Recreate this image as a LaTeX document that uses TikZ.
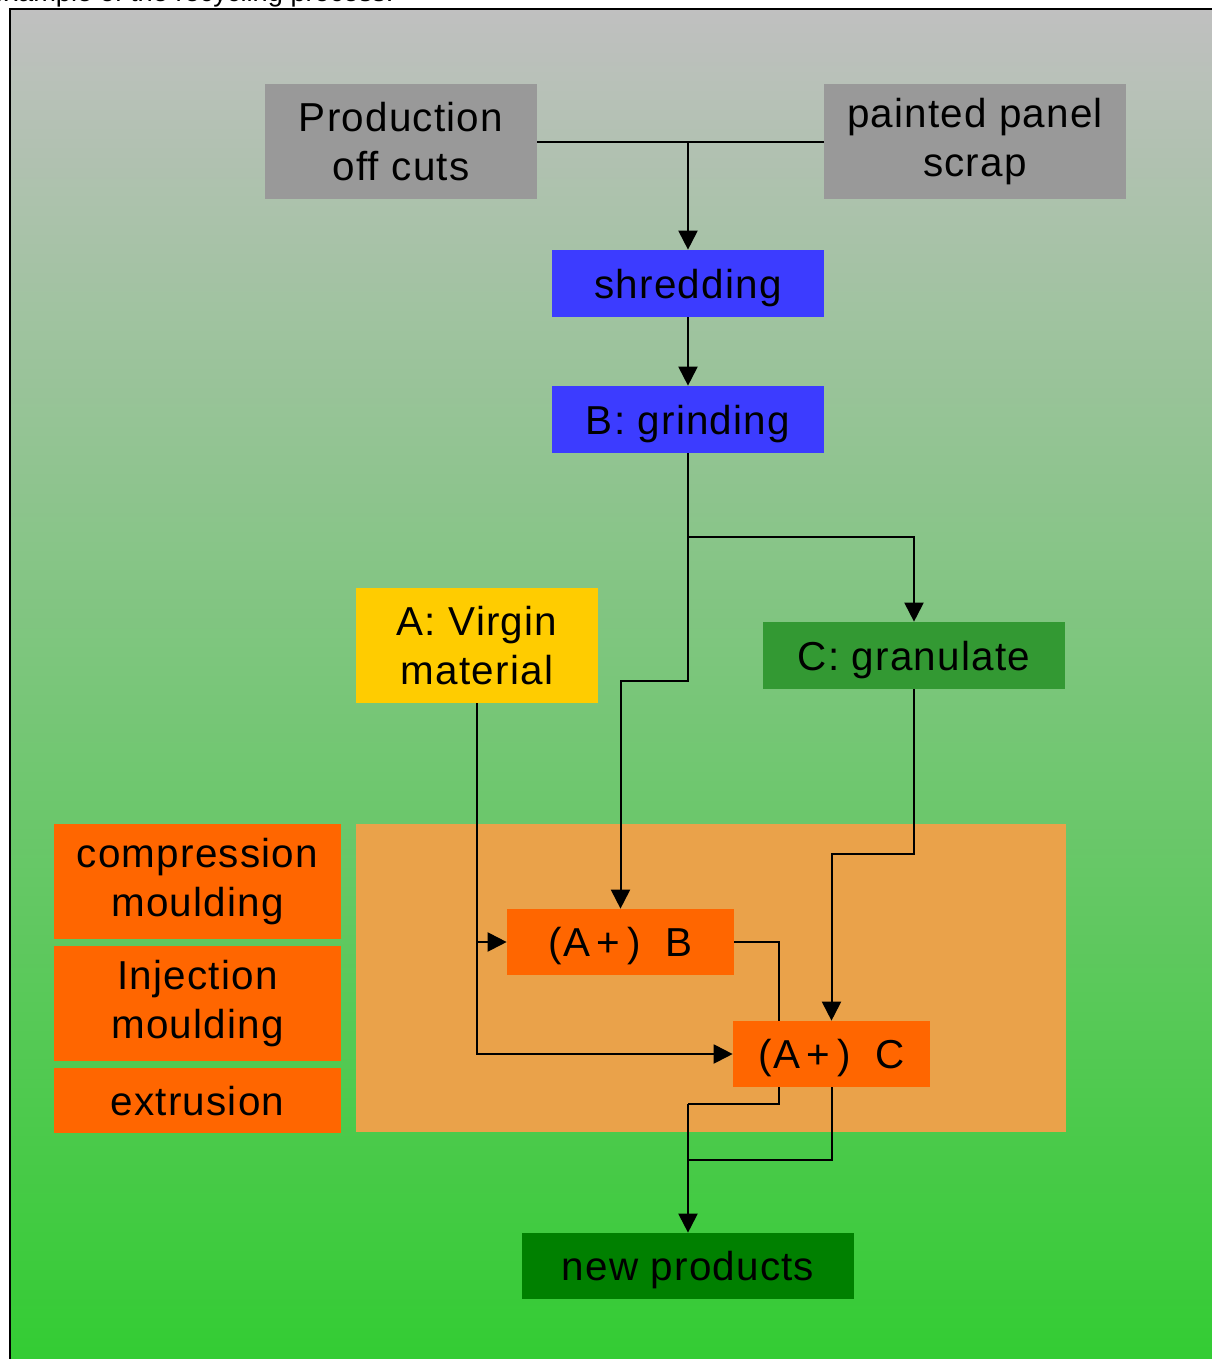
\documentclass[tikz,border=0pt]{standalone}
\usepackage{fontspec}
\setmainfont{Liberation Sans}
\usepackage{tikz}
\usetikzlibrary{arrows.meta}
\definecolor{bggray}{RGB}{192,192,192}
\definecolor{bggreen}{RGB}{51,204,51}
\definecolor{mixregion}{RGB}{234,162,74}
\definecolor{scrapgray}{RGB}{153,153,153}
\definecolor{millblue}{RGB}{60,60,255}
\definecolor{virginyellow}{RGB}{255,204,0}
\definecolor{mouldorange}{RGB}{255,102,0}
\definecolor{granugreen}{RGB}{51,153,51}
\definecolor{prodgreen}{RGB}{0,128,0}
\pgfdeclarelayer{behind}
\pgfsetlayers{behind,main}
\tikzset{
	box/.style={rectangle, inner sep=0pt, align=center, font=\fontsize{23}{27.5}\selectfont\addfontfeatures{LetterSpace=3}},
	oneline/.style={box, text height=0.8cm, text depth=0.21cm},
	wire/.style={line width=0.04cm},
	arr/.style={-{Triangle[length=0.38cm, width=0.38cm]}}
}

\begin{document}
\begin{tikzpicture}[x=0.02cm, y=-0.02cm]
	\useasboundingbox (0, 0) rectangle (1212, 1359);
	% Background, frame and mixing area:
	\begin{pgfonlayer}{behind}
		\shade[top color=bggray, bottom color=bggreen] (10, 9) rectangle (1214, 1361);
		\draw[line width=0.03cm] (1214, 9) -- (10, 9) -- (10, 1361);
		\fill[mixregion] (356, 824) rectangle (1066, 1132);
	\end{pgfonlayer}
	\node[anchor=base west, inner sep=0pt, font=\fontsize{15.5}{18}\selectfont] (title) at (-11, 1.5){example of the recycling process.};
	% Boxes:
	\node[box, fill=scrapgray, minimum width=5.44cm, minimum height=2.3cm](offcuts) at (401, 141.5){Production\\off cuts};
	\node[box, fill=scrapgray, minimum width=6.04cm, minimum height=2.3cm](panel) at (975, 141.5){painted panel\\scrap};
	\node[oneline, fill=millblue, minimum width=5.44cm, minimum height=1.34cm](shred) at (688, 283.5){shredding};
	\node[oneline, fill=millblue, minimum width=5.44cm, minimum height=1.34cm](grind) at (688, 419.5){B: grinding};
	\node[box, fill=virginyellow, minimum width=4.84cm, minimum height=2.3cm](virgin) at (477, 645.5){A: Virgin\\material};
	\node[oneline, fill=granugreen, minimum width=6.04cm, minimum height=1.34cm](gran) at (914, 655.5){C: granulate};
	\node[box, fill=mouldorange, minimum width=5.74cm, minimum height=2.3cm](compr) at (197.5, 881.5){compression\\moulding};
	\node[box, fill=mouldorange, minimum width=5.74cm, minimum height=2.3cm](inject) at (197.5, 1003.5){Injection\\moulding};
	\node[oneline, fill=mouldorange, minimum width=5.74cm, minimum height=1.3cm](extru) at (197.5, 1100.5){extrusion};
	\node[oneline, fill=mouldorange, minimum width=4.54cm, minimum height=1.32cm](AB) at (620.5, 942){(A\,+\,)\ \ B};
	\node[oneline, fill=mouldorange, minimum width=3.94cm, minimum height=1.32cm](AC) at (831.5, 1054){(A\,+\,)\ \ C};
	\node[oneline, fill=prodgreen, minimum width=6.64cm, minimum height=1.32cm](newprod) at (688, 1266){new products};
	% Bends of the wires:
	\coordinate (split) at (688, 537);
	\coordinate (bend1) at (688, 681);
	\coordinate (bend2) at (914, 854);
	\coordinate (drop) at (779, 1104);
	\coordinate (merge1) at (688, 1104);
	\coordinate (merge2) at (688, 1160);
	% Wires:
	\draw[wire, arr] (offcuts.east) -| (shred.north);
	\draw[wire] (panel.west) -- (panel.west -| shred.north);
	\draw[wire, arr] (shred.south) -- (grind.north);
	\draw[wire, arr] (grind.south) -- (split) -| (gran.north);
	\draw[wire, arr] (split) -- (bend1) -| (AB.north);
	\draw[wire, arr] (virgin.south) |- (AB.west);
	\draw[wire, arr] (virgin.south) |- (AC.west);
	\draw[wire, arr] (gran.south) -- (bend2) -| (AC.north);
	\begin{pgfonlayer}{behind}
		\draw[wire] (AB.east) -| (drop) -- (merge1);
	\end{pgfonlayer}
	\draw[wire, arr] (merge1) -- (newprod.north);
	\draw[wire] (AC.south) |- (merge2);
\end{tikzpicture}
\end{document}
